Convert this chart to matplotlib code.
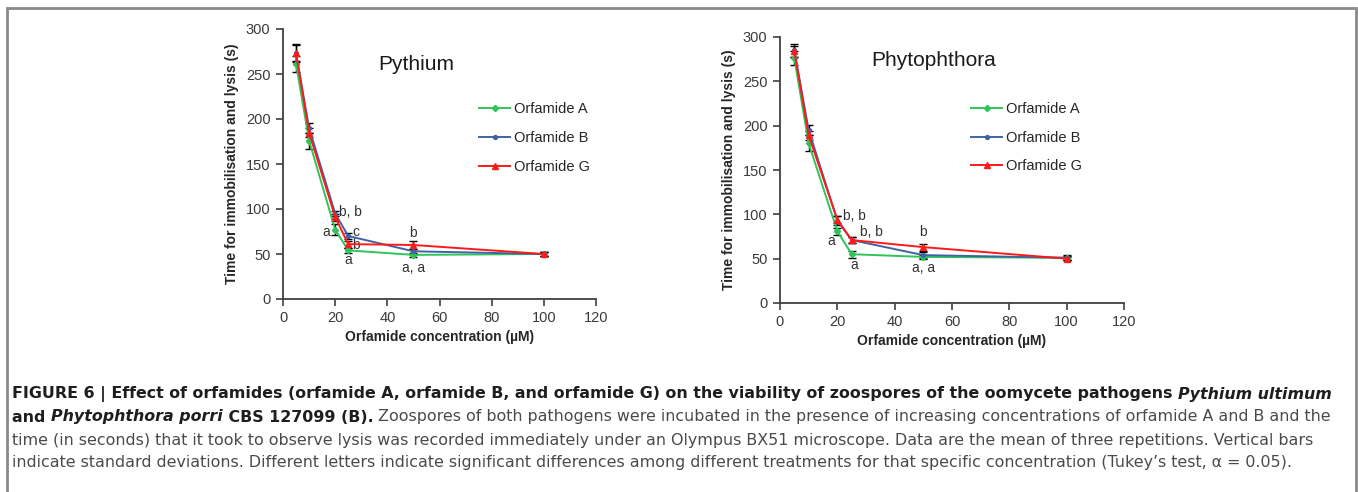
import numpy as np
import matplotlib

matplotlib.use("Agg")
import matplotlib.pyplot as plt
from matplotlib.patches import Rectangle
from matplotlib.lines import Line2D

plt.rcParams["font.family"] = ["Liberation Sans", "DejaVu Sans"]

# data
conc = [5, 10, 20, 25, 50, 100]

pyth_a = [261, 176, 77, 54, 49, 50]
pyth_a_err = [9, 9, 6, 3, 2, 2]
pyth_b = [273, 190, 95, 70, 53, 50]
pyth_b_err = [10, 6, 3, 3, 3, 2]
pyth_g = [273, 185, 91, 61, 60, 50]
pyth_g_err = [9, 5, 4, 4, 4, 2]

phyt_a = [276, 180, 81, 55, 52, 51]
phyt_a_err = [8, 9, 4, 4, 2, 2]
phyt_b = [285, 195, 93, 71, 54, 51]
phyt_b_err = [7, 6, 5, 3, 3, 3]
phyt_g = [284, 189, 94, 71, 63, 50]
phyt_g_err = [6, 5, 4, 3, 4, 2]

series_names = ["Orfamide A", "Orfamide B", "Orfamide G"]

# significance letters: (text, x, y, ha)
pyth_letters = [("b, b", 21.5, 97, "left"), ("a", 16.5, 74, "center"),
                ("c", 28.0, 75, "center"), ("b", 28.0, 60, "center"),
                ("a", 25, 43, "center"), ("b", 50, 73, "center"),
                ("a, a", 50, 34, "center")]
phyt_letters = [("b, b", 22.0, 98, "left"), ("a", 17.8, 70, "center"),
                ("b, b", 31.8, 80, "center"), ("a", 26, 43, "center"),
                ("b", 50, 80, "center"), ("a, a", 50, 39, "center")]

colors = ["#2fc45a", "#3f63a6", "#ff1a1a"]
markers = ["D", "o", "^"]
msizes = [3.2, 2.8, 4.3]

W, H = 1358, 492
fig = plt.figure(figsize=(W / 100, H / 100), dpi=100)


def px(x0, y0, x1, y1):
    return [x0 / W, 1 - y1 / H, (x1 - x0) / W, (y1 - y0) / H]


def draw_panel(ax, vals, errs, title, title_xy, letters, legend_anchor):
    for v, e, c, m, ms, name in zip(vals, errs, colors, markers, msizes, series_names):
        ax.errorbar(conc, v, yerr=e, color=c, marker=m, markersize=ms,
                    linewidth=1.4, ecolor="black", elinewidth=1.0, capsize=3.2,
                    capthick=1.0, label=name, zorder=3)
    ax.set_xlim(0, 120)
    ax.set_ylim(0, 300)
    ax.set_xticks(np.arange(0, 121, 20))
    ax.set_yticks(np.arange(0, 301, 50))
    for side in ("top", "right"):
        ax.spines[side].set_visible(False)
    for side in ("left", "bottom"):
        ax.spines[side].set_color("#404040")
        ax.spines[side].set_linewidth(1.3)
    ax.tick_params(direction="out", length=5, width=1.2, color="#404040",
                   labelsize=10.5, labelcolor="#3a3a3a", pad=4)
    ax.set_xlabel("Orfamide concentration (\u00b5M)", fontsize=10,
                  fontweight="bold", color="#262626", labelpad=3)
    ax.set_ylabel("Time for immobilisation and lysis (s)", fontsize=10,
                  fontweight="bold", color="#262626", labelpad=5)
    ax.text(title_xy[0], title_xy[1], title, fontsize=15, color="#1a1a1a", va="center")
    for txt, x, y, ha in letters:
        ax.text(x, y, txt, fontsize=10, color="#333333", ha=ha, va="center")
    handles = [Line2D([], [], color=c, marker=m, markersize=ms, linewidth=1.4)
               for c, m, ms in zip(colors, markers, msizes)]
    ax.legend(handles, series_names, loc="upper left", bbox_to_anchor=legend_anchor,
              frameon=False, fontsize=10.5, handlelength=2.1, handletextpad=0.3,
              labelspacing=1.0, borderpad=0, labelcolor="#262626")


ax1 = fig.add_axes(px(283, 29, 596, 299))
draw_panel(ax1, [pyth_a, pyth_b, pyth_g], [pyth_a_err, pyth_b_err, pyth_g_err],
           "Pythium", (36.5, 261), pyth_letters, (0.604, 0.755))

ax2 = fig.add_axes(px(780, 37, 1124, 303))
draw_panel(ax2, [phyt_a, phyt_b, phyt_g], [phyt_a_err, phyt_b_err, phyt_g_err],
           "Phytophthora", (32, 274), phyt_letters, (0.535, 0.782))

# frame around the figure
fig.patches.append(Rectangle((7 / W, -0.05), 1349 / W, 1.05 - 8 / H,
                             transform=fig.transFigure, fill=False,
                             edgecolor="#8a8a8a", linewidth=2))

# caption, drawn as runs of differently styled text
cap_font = ["DejaVu Sans"]
cap_size = 11.45
caption = [
    [("FIGURE 6 | Effect of orfamides (orfamide A, orfamide B, and orfamide G) on the "
      "viability of zoospores of the oomycete pathogens ", "bold", "normal"),
     ("Pythium ultimum", "bold", "italic")],
    [("and ", "bold", "normal"), ("Phytophthora porri", "bold", "italic"),
     (" CBS 127099 (B).", "bold", "normal"),
     (" Zoospores of both pathogens were incubated in the presence of increasing "
      "concentrations of orfamide A and B and the", "normal", "normal")],
    [("time (in seconds) that it took to observe lysis was recorded immediately under an "
      "Olympus BX51 microscope. Data are the mean of three repetitions. Vertical bars",
      "normal", "normal")],
    [("indicate standard deviations. Different letters indicate significant differences "
      "among different treatments for that specific concentration (Tukey\u2019s test, "
      "\u03b1 = 0.05).", "normal", "normal")],
]
line_y = [394, 417, 440, 463]

fig.canvas.draw()
renderer = fig.canvas.get_renderer()
for runs, y in zip(caption, line_y):
    x = 12.0
    for txt, weight, style in runs:
        col = "#1e1e1e" if weight == "bold" else "#4a4a4a"
        t = fig.text(x / W, 1 - y / H, txt, family=cap_font, fontsize=cap_size,
                     fontweight=weight, fontstyle=style, color=col, va="center")
        x += t.get_window_extent(renderer).width

fig.savefig("out.png", dpi=100)
